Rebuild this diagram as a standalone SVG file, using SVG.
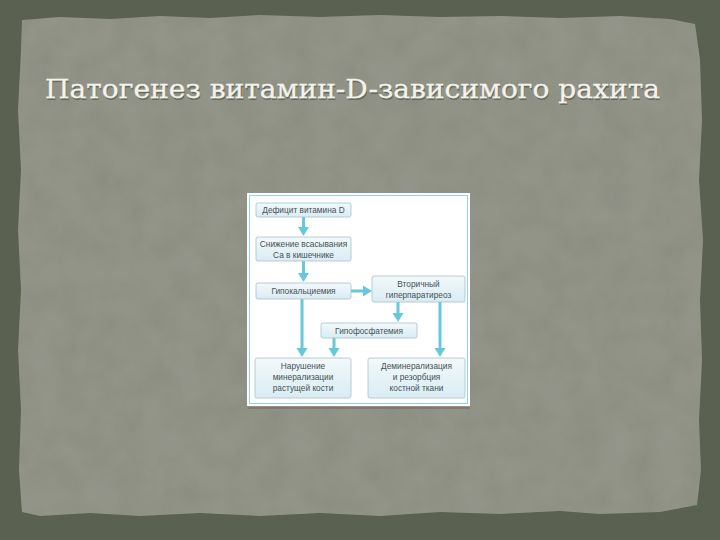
<svg xmlns="http://www.w3.org/2000/svg" width="720" height="540" viewBox="0 0 720 540">
<defs>
<style>
.bx{fill:url(#bg);stroke:#a7c0cc;stroke-width:0.8}
.t{font-family:"Liberation Sans",Arial,sans-serif;font-size:8.3px;fill:#465055;text-anchor:middle}
.ar{stroke:#66c8da;stroke-width:3;fill:none;marker-end:url(#ah)}
</style>
<linearGradient id="bg" x1="0" y1="0" x2="0" y2="1">
<stop offset="0" stop-color="#f2f9fb"/>
<stop offset="1" stop-color="#d9ecf3"/>
</linearGradient>
<marker id="ah" markerUnits="userSpaceOnUse" markerWidth="12" markerHeight="12" refX="1" refY="6" orient="auto">
<path d="M0,0.5 L9,6 L0,11.5 Z" fill="#66c8da"/>
</marker>
<filter id="tex" x="0" y="0" width="1" height="1">
<feTurbulence type="fractalNoise" baseFrequency="0.035" numOctaves="3" seed="4" result="n"/>
<feColorMatrix in="n" type="matrix" values="0 0 0 0 0.5  0 0 0 0 0.51  0 0 0 0 0.46  0 0 0 0.18 0" result="c"/>
<feComposite in="c" in2="SourceGraphic" operator="in" result="m"/>
<feMerge><feMergeNode in="SourceGraphic"/><feMergeNode in="m"/></feMerge>
</filter>
</defs>
<rect x="0" y="0" width="720" height="540" fill="#5a6150"/>
<path filter="url(#tex)" fill="#8b8d81" d="M22,20 L60,17 L110,19 L160,16 L210,18 L260,15 L320,17 L380,15 L440,17 L500,16 L560,18 L620,16 L670,19 L695,24 L700,60 L702,120 L699,180 L703,240 L700,300 L702,360 L699,420 L701,470 L697,505 L660,512 L600,514 L560,511 L500,514 L440,512 L380,516 L320,513 L260,516 L200,513 L140,516 L90,513 L40,516 L22,512 L19,470 L21,410 L18,350 L21,290 L18,230 L21,170 L18,110 L21,50 Z"/>
<text x="45" y="98" font-family="'DejaVu Serif','Liberation Serif',serif" font-size="26.5" fill="#1e2018" opacity="0.35" textLength="615" lengthAdjust="spacingAndGlyphs" transform="translate(1,1.5)">Патогенез витамин-D-зависимого рахита</text>
<text x="45" y="98" font-family="'DejaVu Serif','Liberation Serif',serif" font-size="26.5" fill="#f3f3ec" stroke="#f3f3ec" stroke-width="0.3" textLength="615" lengthAdjust="spacingAndGlyphs">Патогенез витамин-D-зависимого рахита</text>
<g id="panel">
<rect x="247" y="193" width="223" height="213" fill="#ffffff"/>
<rect x="249.5" y="195.5" width="218" height="208" fill="none" stroke="#8fd6e2" stroke-width="1"/>
<line x1="248" y1="408" x2="470" y2="408" stroke="#7a7466" stroke-width="1.5"/>
</g>
<g id="connectors">
<line class="ar" x1="303.5" y1="217" x2="303.5" y2="228"/>
<line class="ar" x1="303.5" y1="261" x2="303.5" y2="274"/>
<line class="ar" x1="351" y1="291" x2="364" y2="291"/>
<line class="ar" x1="302" y1="299" x2="302" y2="349"/>
<line class="ar" x1="334" y1="338" x2="334" y2="349"/>
<line class="ar" x1="398" y1="302" x2="398" y2="314"/>
<line class="ar" x1="440" y1="302" x2="440" y2="349"/>
</g>
<g id="n1"><rect class="bx" x="256" y="203" width="95" height="14" rx="2"/><text class="t" x="303.5" y="213">Дефицит витамина D</text></g>
<g id="n2"><rect class="bx" x="256" y="237" width="95" height="24" rx="2"/><text class="t" x="303.5" y="247">Снижение всасывания</text><text class="t" x="303.5" y="257.5">Са в кишечнике</text></g>
<g id="n3"><rect class="bx" x="256" y="283" width="95" height="16" rx="2"/><text class="t" x="303.5" y="294">Гипокальциемия</text></g>
<g id="n4"><rect class="bx" x="372" y="276" width="93" height="26" rx="2"/><text class="t" x="418.5" y="287">Вторичный</text><text class="t" x="418.5" y="298">гиперпаратиреоз</text></g>
<g id="n5"><rect class="bx" x="321" y="323" width="96" height="15" rx="2"/><text class="t" x="369" y="333.5">Гипофосфатемия</text></g>
<g id="n6"><rect class="bx" x="255" y="358" width="96" height="40" rx="2"/><text class="t" x="303" y="369">Нарушение</text><text class="t" x="303" y="380">минерализации</text><text class="t" x="303" y="391">растущей кости</text></g>
<g id="n7"><rect class="bx" x="368" y="358" width="97" height="40" rx="2"/><text class="t" x="416.5" y="369">Деминерализация</text><text class="t" x="416.5" y="380">и резорбция</text><text class="t" x="416.5" y="391">костной ткани</text></g>
</svg>
